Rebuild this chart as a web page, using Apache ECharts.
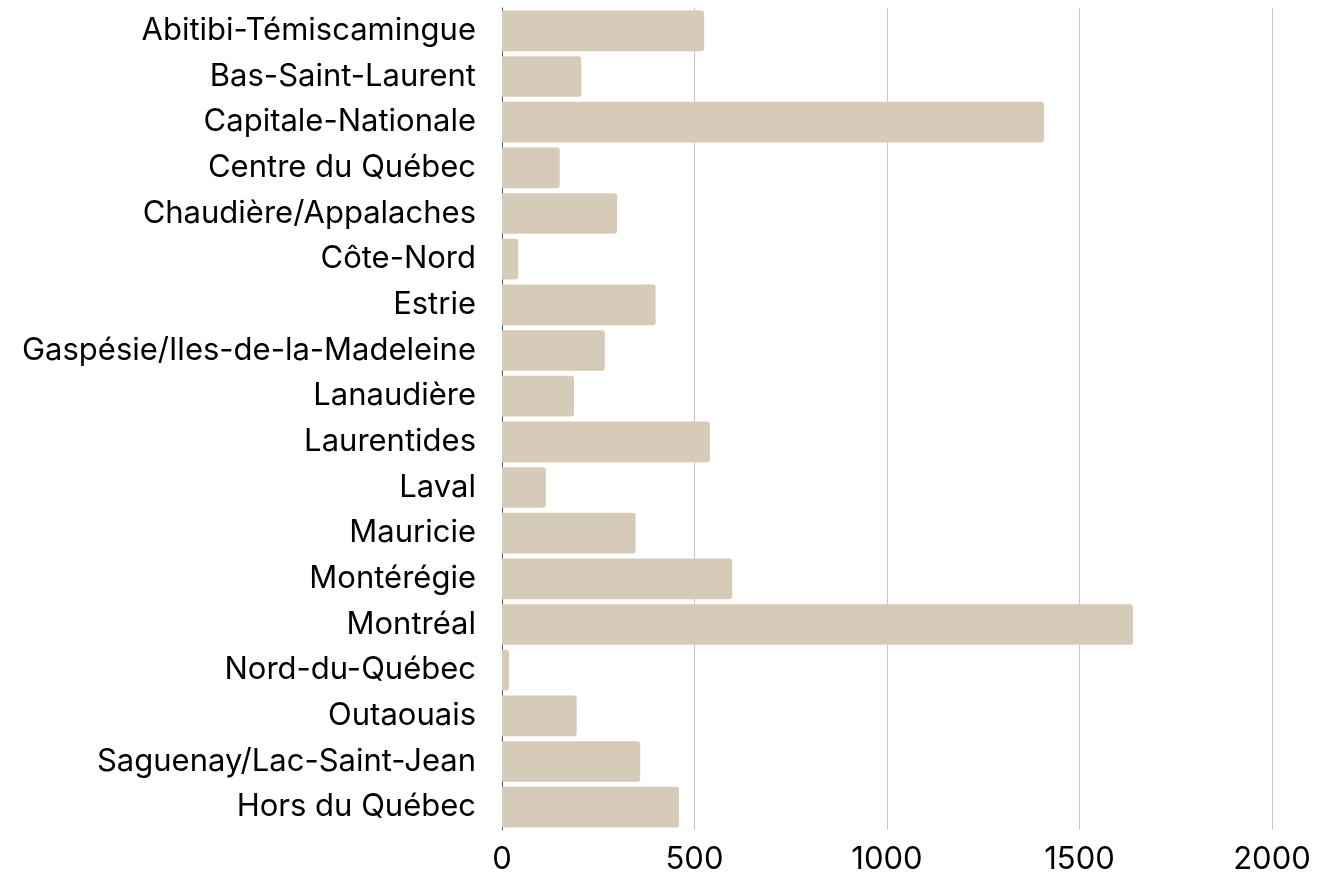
<!DOCTYPE html>
<html lang="fr">
<head>
    <meta charset="UTF-8">
    <title>Régions</title>
    <script src="https://cdn.jsdelivr.net/npm/echarts@6/dist/echarts.min.js"></script>
    <style>
        html, body { margin: 0; padding: 0; background: #fff; }
    </style>
</head>
<body>
<div id="main" style="width: 1327px;height:876px;"></div>
<script type="text/javascript">
    // regions, top to bottom as in the picture
    const regions = ['Abitibi-Témiscamingue', 'Bas-Saint-Laurent', 'Capitale-Nationale', 'Centre du Québec',
        'Chaudière/Appalaches', 'Côte-Nord', 'Estrie', 'Gaspésie/Iles-de-la-Madeleine', 'Lanaudière',
        'Laurentides', 'Laval', 'Mauricie', 'Montérégie', 'Montréal', 'Nord-du-Québec', 'Outaouais',
        'Saguenay/Lac-Saint-Jean', 'Hors du Québec'];
    const counts = [525, 206, 1408, 150, 299, 42, 399, 267, 187, 540, 114, 347, 598, 1639, 18, 194, 359, 460];
    const xTicks = [0, 500, 1000, 1500, 2000];

    const font = 'Inter, "Open Sans", sans-serif';

    let options = {
        animation: false,
        grid: { left: 502, right: 55, top: 8, bottom: 46, containLabel: false },
        xAxis: {
            type: 'value',
            min: xTicks[0],
            max: xTicks[xTicks.length - 1],
            interval: 500,
            axisLine: { show: false },
            axisTick: { show: false },
            splitLine: { lineStyle: { color: '#c4c4c4', width: 1 } },
            axisLabel: { color: '#000', fontSize: 31, fontFamily: font, margin: 14, formatter: v => String(v) }
        },
        yAxis: {
            type: 'category',
            data: regions,
            inverse: true,
            axisLine: { show: true, lineStyle: { color: '#555', width: 1 } },
            axisTick: { show: false },
            axisLabel: { color: '#000', fontSize: 31, fontFamily: font, margin: 26 }
        },
        series: [{
            type: 'bar',
            data: counts,
            barCategoryGap: '11%',
            itemStyle: { color: '#d6cbb8', borderRadius: [0, 3, 3, 0] }
        }]
    };
    let myChart = echarts.init(document.getElementById('main'));
    myChart.setOption(options);
</script>
</body>
</html>
